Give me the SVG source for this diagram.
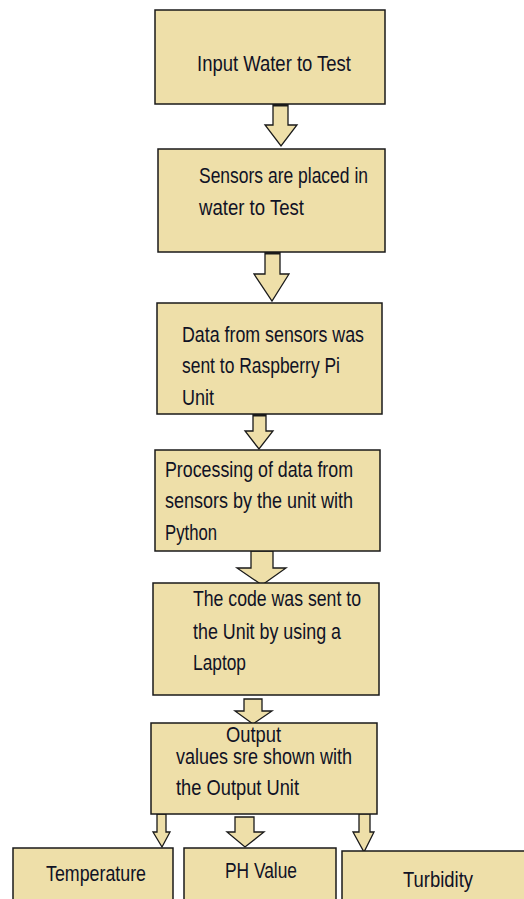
<svg xmlns="http://www.w3.org/2000/svg" width="524" height="899" viewBox="0 0 524 899">
  <style>
    .box { fill: #EEDFA9; stroke: #1a1a1a; stroke-width: 1.5; }
    .arrow { fill: #EEDFA9; stroke: #1a1a1a; stroke-width: 1.3; stroke-linejoin: miter; }
    .lbl { font-family: "Liberation Sans", Arial, sans-serif; font-size: 21.5px; fill: #101225; }
  </style>
  <rect width="524" height="899" fill="#ffffff"/>

  <!-- flow connectors: block arrows -->
  <g id="connectors">
    <polygon class="arrow" points="273,104 288,104 288,125 297,125 281,146 265,125 273,125"/>
    <polygon class="arrow" points="265,252 280,252 280,274 289,274 272,301 254,274 265,274"/>
    <polygon class="arrow" points="253,414 266,414 266,431 273,431 259,449 245,431 253,431"/>
    <polygon class="arrow" points="251,551 273,551 273,568 286,568 262,585 237,568 251,568"/>
    <polygon class="arrow" points="244,699 262,699 262,711 272,711 253,724 235,711 244,711"/>
    <polygon class="arrow" points="157,814 166,814 166,832 170,832 162,847 153,832 157,832"/>
    <polygon class="arrow" points="235,817 254,817 254,832 264,832 245,847 227,832 235,832"/>
    <polygon class="arrow" points="359,812 370,812 370,832 374,832 364,852 353,832 359,832"/>
    <!-- dark caps where the shafts meet the boxes above -->
    <line x1="273" y1="105" x2="288" y2="105" stroke="#1a1a1a" stroke-width="3"/>
    <line x1="265" y1="253" x2="280" y2="253" stroke="#1a1a1a" stroke-width="3"/>
    <line x1="253" y1="415" x2="266" y2="415" stroke="#1a1a1a" stroke-width="3"/>
    <line x1="359" y1="813" x2="370" y2="813" stroke="#1a1a1a" stroke-width="3"/>
  </g>

  <g id="input">
    <rect class="box" x="155" y="10" width="230" height="94"/>
    <text class="lbl" x="197" y="71" textLength="154" lengthAdjust="spacingAndGlyphs">Input Water to Test</text>
  </g>

  <g id="sensors">
    <rect class="box" x="158" y="149" width="227" height="103"/>
    <text class="lbl" x="199" y="183" textLength="169" lengthAdjust="spacingAndGlyphs">Sensors are placed in</text>
    <text class="lbl" x="199" y="215" textLength="105" lengthAdjust="spacingAndGlyphs">water to Test</text>
  </g>

  <g id="raspberry">
    <rect class="box" x="157" y="303" width="225" height="111"/>
    <text class="lbl" x="182" y="342" textLength="182" lengthAdjust="spacingAndGlyphs">Data from sensors was</text>
    <text class="lbl" x="182" y="373" textLength="158" lengthAdjust="spacingAndGlyphs">sent to Raspberry Pi</text>
    <text class="lbl" x="182" y="405" textLength="32" lengthAdjust="spacingAndGlyphs">Unit</text>
  </g>

  <g id="processing">
    <rect class="box" x="155" y="450" width="225" height="101"/>
    <text class="lbl" x="165" y="477" textLength="188" lengthAdjust="spacingAndGlyphs">Processing of data from</text>
    <text class="lbl" x="165" y="508" textLength="188" lengthAdjust="spacingAndGlyphs">sensors by the unit with</text>
    <text class="lbl" x="165" y="540" textLength="52" lengthAdjust="spacingAndGlyphs">Python</text>
  </g>

  <g id="laptop">
    <rect class="box" x="153" y="583" width="226" height="112"/>
    <text class="lbl" x="193" y="606" textLength="168" lengthAdjust="spacingAndGlyphs">The code was sent to</text>
    <text class="lbl" x="193" y="639" textLength="148" lengthAdjust="spacingAndGlyphs">the Unit by using a</text>
    <text class="lbl" x="193" y="670" textLength="53" lengthAdjust="spacingAndGlyphs">Laptop</text>
  </g>

  <g id="output">
    <rect class="box" x="151" y="723" width="226" height="91"/>
    <text class="lbl" x="226" y="742" textLength="55" lengthAdjust="spacingAndGlyphs">Output</text>
    <text class="lbl" x="176" y="764" textLength="176" lengthAdjust="spacingAndGlyphs">values sre shown with</text>
    <text class="lbl" x="176" y="795" textLength="123" lengthAdjust="spacingAndGlyphs">the Output Unit</text>
  </g>

  <g id="temperature">
    <rect class="box" x="13" y="848" width="160" height="60"/>
    <text class="lbl" x="46" y="881" textLength="100" lengthAdjust="spacingAndGlyphs">Temperature</text>
  </g>

  <g id="ph-value">
    <rect class="box" x="184" y="848" width="152" height="60"/>
    <text class="lbl" x="225" y="878" textLength="72" lengthAdjust="spacingAndGlyphs">PH Value</text>
  </g>

  <g id="turbidity">
    <rect class="box" x="342" y="851" width="190" height="60"/>
    <text class="lbl" x="403" y="887" textLength="70" lengthAdjust="spacingAndGlyphs">Turbidity</text>
  </g>
</svg>
